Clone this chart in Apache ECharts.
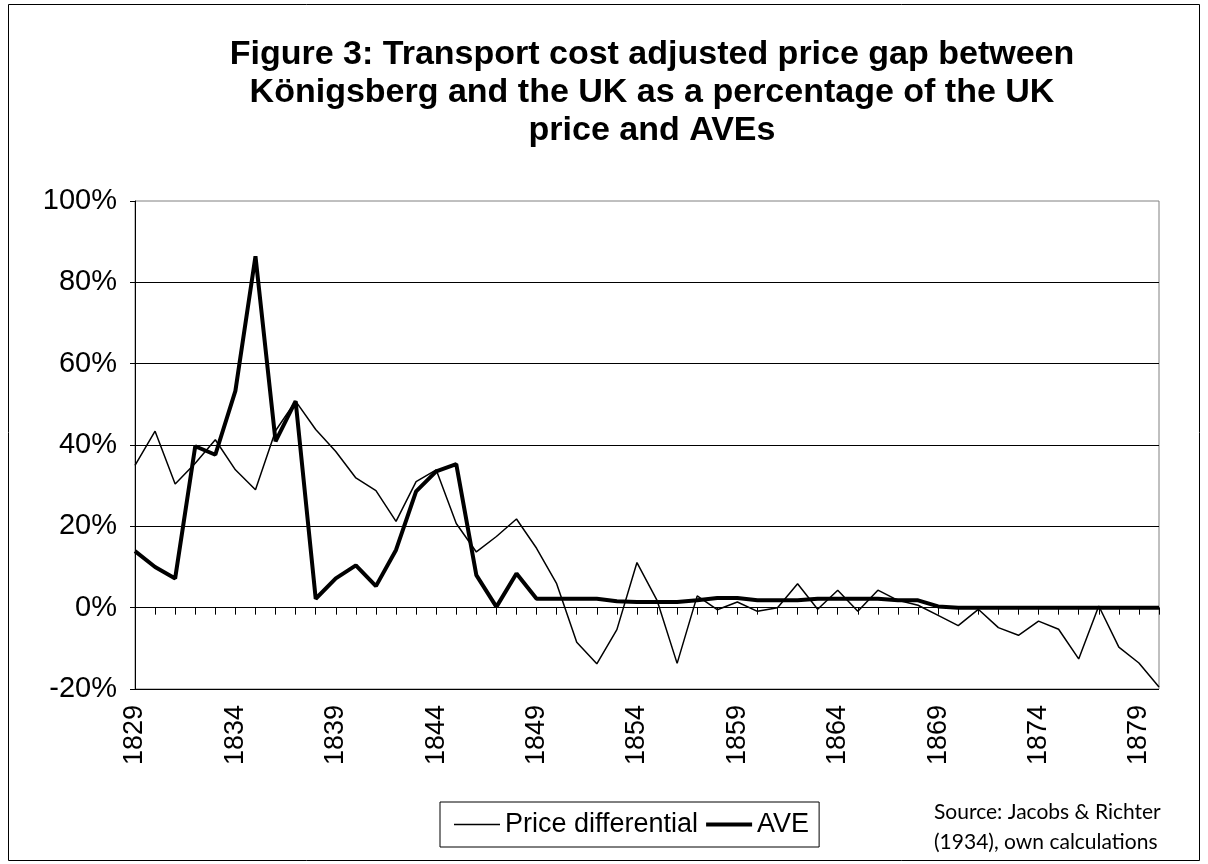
<!DOCTYPE html>
<html lang="en">

<head>
  <meta charset="UTF-8">
  <title>Figure 3</title>
  <style>
    body {
      margin: 0;
      padding: 0;
      background: #fff;
    }

    .chart_box {
      width: 1208px;
      height: 864px;
    }
  </style>
</head>

<body>
  <div class="chart_box" id="chart_box"></div>

  <script src="https://cdn.jsdelivr.net/npm/echarts@6/dist/echarts.min.js"></script>
  <script>
    // years on the x axis, 1829 - 1880
    var years = [];
    for (var y = 1829; y <= 1880; y++) {
        years.push(String(y));
    }

    // price gap as % of UK price (thin line)
    var priceDiff = [
        35, 43.4, 30.4, 35.5, 41.3, 33.9, 29, 43.5, 50.8, 43.8,
        38.4, 31.9, 28.8, 21.2, 31, 33.9, 20.7, 13.7, 17.5, 21.8,
        14.6, 5.9, -8.5, -13.8, -5.4, 11.1, 1.8, -13.7, 2.9, -0.5,
        1.4, -0.9, 0, 5.9, -0.4, 4.3, -0.9, 4.3, 1.8, 0.6,
        -1.9, -4.4, -0.4, -4.9, -6.8, -3.3, -5.3, -12.6, 0.4, -9.7,
        -13.6, -19.5
    ];

    // ad valorem equivalents (thick line)
    var ave = [
        13.9, 10, 7.2, 39.7, 37.6, 53.3, 86.4, 40.9, 50.8, 2.2,
        7.2, 10.4, 5.3, 14.2, 28.6, 33.5, 35.3, 8, 0.2, 8.4,
        2.2, 2.2, 2.2, 2.2, 1.6, 1.4, 1.4, 1.4, 1.8, 2.4,
        2.4, 1.8, 1.8, 1.8, 2.2, 2.2, 2.2, 2.2, 1.8, 1.8,
        0.3, 0, 0, 0, 0, 0, 0, 0, 0, 0,
        0, 0
    ];

    var yTicks = { min: -20, max: 100, step: 20 };

    var titleText = 'Figure 3: Transport cost adjusted price gap between\n' +
        'Königsberg and the UK as a percentage of the UK\n' +
        'price and AVEs';
    var sourceText = 'Source: Jacobs & Richter\n(1934), own calculations';

    var font = 'Liberation Sans, Arial, sans-serif';

    var chart = echarts.init(document.getElementById('chart_box'));

    var option = {
        backgroundColor: '#fff',
        animation: false,
        textStyle: { fontFamily: font, color: '#000' },
        grid: {
            left: 135,
            right: 49,
            top: 201,
            bottom: 175,
            show: true,
            borderColor: '#808080',
            borderWidth: 1
        },
        legend: {
            left: 440,
            top: 802,
            padding: [9, 10, 9, 14],
            borderColor: '#000',
            borderWidth: 1,
            itemWidth: 46,
            itemHeight: 14,
            itemGap: 8,
            textStyle: { fontSize: 27, color: '#000', fontFamily: font },
            data: [
                { name: 'Price differential', icon: 'path://M0 0H46V1.5H0Z' },
                { name: 'AVE', icon: 'path://M0 0H46V4H0Z' }
            ]
        },
        xAxis: {
            type: 'category',
            boundaryGap: false,
            data: years,
            axisLine: { lineStyle: { color: '#000', width: 1 } },
            axisTick: { show: true, interval: 0, length: 7, lineStyle: { color: '#000' } },
            axisLabel: {
                interval: 4,
                rotate: 90,
                margin: 16,
                fontSize: 27,
                color: '#000',
                fontFamily: font
            },
            splitLine: { show: false }
        },
        yAxis: {
            type: 'value',
            min: yTicks.min,
            max: yTicks.max,
            interval: yTicks.step,
            axisLine: { show: true, lineStyle: { color: '#000', width: 1 } },
            axisTick: { show: true, length: 5, lineStyle: { color: '#000' } },
            axisLabel: {
                formatter: '{value}%',
                margin: 18,
                fontSize: 29,
                color: '#000',
                fontFamily: font
            },
            splitLine: { show: true, showMaxLine: false, lineStyle: { color: '#000', width: 1 } }
        },
        graphic: [
            {
                type: 'rect',
                shape: { x: 8.5, y: 4.5, width: 1191, height: 856 },
                style: { fill: 'none', stroke: '#000', lineWidth: 1 },
                silent: true
            },
            {
                type: 'text',
                x: 652,
                y: 36,
                style: {
                    text: titleText,
                    font: 'bold 34px ' + font,
                    lineHeight: 38,
                    fill: '#000',
                    align: 'center',
                    verticalAlign: 'top'
                }
            },
            {
                type: 'text',
                x: 934,
                y: 797,
                style: {
                    text: sourceText,
                    font: '21px Lato, sans-serif',
                    lineHeight: 30,
                    fill: '#000',
                    align: 'left',
                    verticalAlign: 'top'
                }
            }
        ],
        series: [
            {
                name: 'Price differential',
                type: 'line',
                data: priceDiff,
                symbol: 'none',
                lineStyle: { color: '#000', width: 1.5 },
                itemStyle: { color: '#000' },
                z: 3
            },
            {
                name: 'AVE',
                type: 'line',
                data: ave,
                symbol: 'none',
                lineStyle: { color: '#000', width: 4 },
                itemStyle: { color: '#000' },
                z: 4
            }
        ]
    };

    chart.setOption(option);
  </script>
</body>

</html>
